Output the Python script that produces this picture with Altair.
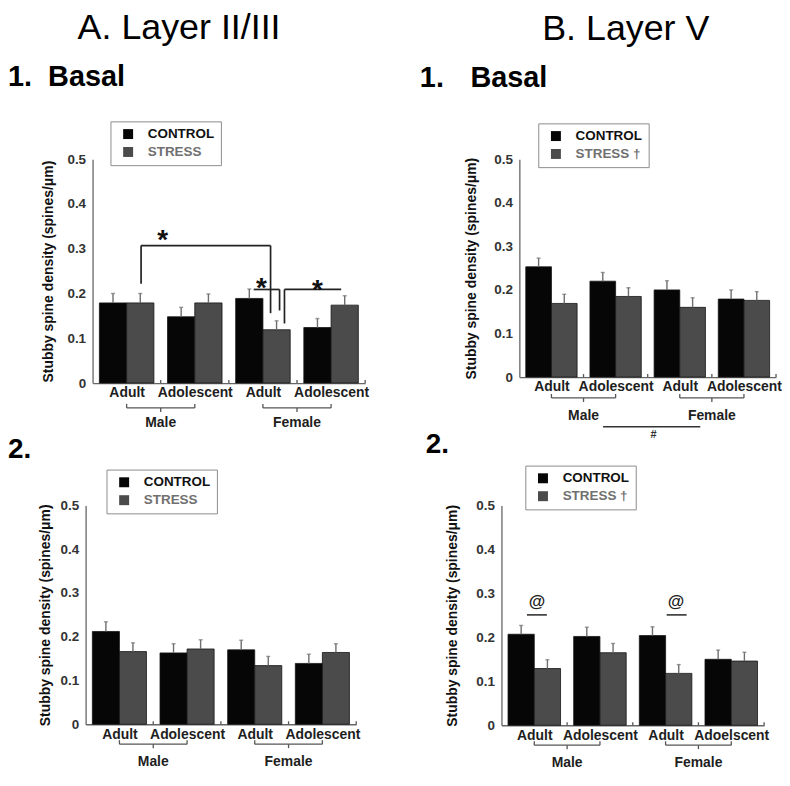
import altair as alt
import pandas as pd

F = "Liberation Sans"
NB = "\u00a0"
ZW = "\u200b"
HAIR = "\u200a"

# ---------------- data ----------------
ages = ["Adult", "Adolescent", "Adult", "Adolescent"]
ages_b2 = ["Adult", "Adolescent", "Adult", "Adoelscent"]
sexes = ["Male", "Female"]
conditions = ["CONTROL", "STRESS"]
bar_colors = ["#060606", "#4b4b4b"]
y_ticks = [0, 0.1, 0.2, 0.3, 0.4, 0.5]

# A. Layer II/III, 1. Basal
a1_control = [0.179, 0.148, 0.189, 0.124]
a1_control_sem = [0.021, 0.021, 0.021, 0.020]
a1_stress = [0.179, 0.179, 0.119, 0.174]
a1_stress_sem = [0.021, 0.020, 0.020, 0.021]

# B. Layer V, 1. Basal
b1_control = [0.253, 0.220, 0.200, 0.179]
b1_control_sem = [0.020, 0.020, 0.021, 0.021]
b1_stress = [0.169, 0.185, 0.160, 0.176]
b1_stress_sem = [0.021, 0.020, 0.022, 0.020]

# A. Layer II/III, 2.
a2_control = [0.212, 0.163, 0.170, 0.139]
a2_control_sem = [0.022, 0.021, 0.022, 0.021]
a2_stress = [0.166, 0.172, 0.134, 0.164]
a2_stress_sem = [0.020, 0.021, 0.021, 0.020]

# B. Layer V, 2.
b2_control = [0.207, 0.202, 0.204, 0.150]
b2_control_sem = [0.020, 0.021, 0.020, 0.021]
b2_stress = [0.129, 0.165, 0.118, 0.146]
b2_stress_sem = [0.020, 0.021, 0.020, 0.020]

# significance annotations (x in bar-slot units, y in spines/um)
a1_bracket_x1 = [1.78, 1.78, 6.53, 5.91, 6.86, 7.04, 7.04]
a1_bracket_x2 = [1.78, 6.53, 6.53, 6.86, 6.86, 7.04, 9.12]
a1_bracket_y1 = [0.222, 0.307, 0.307, 0.209, 0.209, 0.209, 0.209]
a1_bracket_y2 = [0.307, 0.307, 0.156, 0.209, 0.162, 0.133, 0.209]
a1_star_x = [2.57, 6.19, 8.25]
a1_star_y = [0.336, 0.227, 0.224]

b2_at_x = [1.35, 6.65]
b2_at_y = [0.281, 0.281]
b2_line_x1 = [0.97, 6.29]
b2_line_x2 = [1.73, 7.05]
b2_line_y = [0.251, 0.251]

b1_hash_x1 = [3.26]
b1_hash_x2 = [7.05]
b1_hash_y = [-0.114]
b1_hash_text_x = [5.23]
b1_hash_text_y = [-0.132]


def seg_layer(df, xscale, yscale, color, width):
    return alt.Chart(df).mark_rule(color=color, strokeWidth=width).encode(
        x=alt.X("x:Q", scale=xscale),
        x2="x2:Q",
        y=alt.Y("y:Q", scale=yscale),
        y2="y2:Q",
    )


def make_panel(p):
    width, height, xs = p["width"], p["height"], p["xs"]
    upx = 0.5 / height
    rows = []
    for k in range(4):
        for j in range(2):
            vals = p["control"] if j == 0 else p["stress"]
            sems = p["csem"] if j == 0 else p["ssem"]
            x0 = 2.5 * k + 0.25 + j
            rows.append({"condition": conditions[j], "age": p["ages"][k],
                         "value": vals[k], "top": vals[k] + sems[k], "base": 0.0,
                         "x0": x0, "x1": x0 + 1, "xc": x0 + 0.5})
    df = pd.DataFrame(rows)

    xscale = alt.Scale(domain=[0, 10], range=[xs, width], nice=False, zero=False)
    yscale = alt.Scale(domain=[0, 0.5], nice=False)

    lab = p["ages"]
    xexpr = (f"datum.value < 2.5 ? '{lab[0]}' : datum.value < 5 ? '{lab[1]}' : "
             f"datum.value < 7.5 ? '{lab[2]}' : '{lab[3]}'")
    xaxis = alt.Axis(values=[1.25, 3.75, 6.25, 8.75], labelExpr=xexpr, title=None,
                     ticks=False, tickSize=0, labelPadding=3, labelFont=F,
                     labelFontSize=14, labelFontWeight="bold", labelColor="#1e1e1e",
                     domainColor="#666666", domainWidth=1.3, grid=False,
                     labelFlush=False, labelOverlap=False, labelBound=False)
    yaxis = alt.Axis(values=y_ticks,
                     labelExpr="datum.value == 0 ? '0' : format(datum.value, '.1f')",
                     title="Stubby spine density (spines/\u03bcm)", titleFont=F,
                     titleFontSize=14, titleFontWeight="bold", titleColor="#111111",
                     titlePadding=p["title_pad"], labelFont=F, labelFontSize=13.5,
                     labelFontWeight="bold", labelColor="#333333", labelPadding=7,
                     ticks=False, tickSize=0, domainColor="#666666", domainWidth=1.3,
                     grid=False, offset=-xs)
    legend = alt.Legend(orient="none", legendX=p["lx"], legendY=p["ly"], title=None,
                        padding=6, strokeColor="#8c8c8c", fillColor="#ffffff",
                        symbolType="square", symbolSize=100, symbolStrokeWidth=0,
                        symbolOffset=5,
                        labelFont=F, labelFontSize=13.5, labelFontWeight="bold",
                        labelOffset=13, rowPadding=3,
                        labelColor=alt.ExprRef(expr="datum.value == 'STRESS' ? '#707070' : '#111111'"),
                        labelExpr=f"datum.value == 'STRESS' ? '{p['stress_label']}' : datum.label")

    bars = alt.Chart(df).mark_bar(stroke="#161616", strokeWidth=0.8).encode(
        x=alt.X("x0:Q", scale=xscale, axis=xaxis),
        x2="x1:Q",
        y=alt.Y("value:Q", scale=yscale, axis=yaxis, stack=None),
        y2="base:Q",
        color=alt.Color("condition:N", scale=alt.Scale(domain=conditions, range=bar_colors),
                        legend=legend),
    )
    stems = alt.Chart(df).mark_rule(color="#6e6e6e", strokeWidth=1.4).encode(
        x=alt.X("xc:Q", scale=xscale),
        y=alt.Y("value:Q", scale=yscale),
        y2="top:Q",
    )
    caps = alt.Chart(df).mark_tick(orient="horizontal", color="#6e6e6e", thickness=1.4,
                                   size=4).encode(
        x=alt.X("xc:Q", scale=xscale),
        y=alt.Y("top:Q", scale=yscale),
    )

    # small axis ticks between groups and braces under Male / Female
    segs = []
    for t in [2.5, 5.0, 7.5, 10.0]:
        segs.append({"x": t, "x2": t, "y": 0, "y2": 3 * upx})
    yb = -p["brace_px"] * upx
    hook = 4 * upx
    sex_rows = []
    for s in range(2):
        xa, xb, mid = 1.25 + 5 * s, 3.75 + 5 * s, 2.5 + 5 * s
        segs += [{"x": xa, "x2": xb, "y": yb, "y2": yb},
                 {"x": xa, "x2": xa, "y": yb, "y2": yb + hook},
                 {"x": xb, "x2": xb, "y": yb, "y2": yb + hook},
                 {"x": mid, "x2": mid, "y": yb, "y2": yb - hook}]
        sex_rows.append({"sex": sexes[s], "x": mid, "y": 0})
    guides = seg_layer(pd.DataFrame(segs), xscale, yscale, "#555555", 1.3)
    sex_text = alt.Chart(pd.DataFrame(sex_rows)).mark_text(
        font=F, fontSize=14, fontWeight="bold", color="#1e1e1e", baseline="middle",
        dy=p["sex_px"]).encode(
        x=alt.X("x:Q", scale=xscale),
        y=alt.Y("y:Q", scale=yscale),
        text="sex:N",
    )

    layers = [bars, stems, caps, guides, sex_text] + p["extra"](xscale, yscale)
    return alt.layer(*layers).properties(width=width, height=height, title=p["title"])


def extra_a1(xscale, yscale):
    seg = pd.DataFrame({"x": a1_bracket_x1, "x2": a1_bracket_x2,
                        "y": a1_bracket_y1, "y2": a1_bracket_y2})
    stars = pd.DataFrame({"x": a1_star_x, "y": a1_star_y})
    return [
        seg_layer(seg, xscale, yscale, "#222222", 1.7),
        alt.Chart(stars).mark_text(text="*", font=F, fontSize=28, fontWeight="bold",
                                   color="#111111", baseline="alphabetic", dy=16).encode(
            x=alt.X("x:Q", scale=xscale),
            y=alt.Y("y:Q", scale=yscale)),
    ]


def extra_b1(xscale, yscale):
    seg = pd.DataFrame({"x": b1_hash_x1, "x2": b1_hash_x2, "y": b1_hash_y, "y2": b1_hash_y})
    txt = pd.DataFrame({"x": b1_hash_text_x, "y": b1_hash_text_y})
    return [
        seg_layer(seg, xscale, yscale, "#333333", 1.5),
        alt.Chart(txt).mark_text(text="#", font=F, fontSize=11, fontWeight="bold",
                                 color="#333333", baseline="middle").encode(
            x=alt.X("x:Q", scale=xscale),
            y=alt.Y("y:Q", scale=yscale)),
    ]


def extra_none(xscale, yscale):
    return []


def extra_b2(xscale, yscale):
    seg = pd.DataFrame({"x": b2_line_x1, "x2": b2_line_x2, "y": b2_line_y, "y2": b2_line_y})
    txt = pd.DataFrame({"x": b2_at_x, "y": b2_at_y})
    return [
        seg_layer(seg, xscale, yscale, "#333333", 1.6),
        alt.Chart(txt).mark_text(text="@", font=F, fontSize=17, fontWeight="bold",
                                 color="#222222", baseline="middle").encode(
            x=alt.X("x:Q", scale=xscale),
            y=alt.Y("y:Q", scale=yscale)),
    ]


def head_title(text, sub, dx, offset):
    return alt.TitleParams(text=text, subtitle=sub, anchor="start", frame="group", dx=dx,
                           offset=offset, font=F, fontSize=36, fontWeight="normal",
                           color="#000000", subtitleFont=F, subtitleFontSize=29,
                           subtitleFontWeight="bold", subtitleColor="#000000",
                           subtitlePadding=16)


def num_title(text, dx, offset):
    return alt.TitleParams(text=text, anchor="start", frame="group", dx=dx, offset=offset,
                           font=F, fontSize=28, fontWeight="bold", color="#000000")


panel_a1 = make_panel(dict(
    control=a1_control, csem=a1_control_sem, stress=a1_stress, ssem=a1_stress_sem,
    ages=ages, width=281, height=225, xs=7, lx=25, ly=-38, stress_label="STRESS",
    title_pad=11, brace_px=25, sex_px=40, extra=extra_a1,
    title=head_title(ZW + NB * 7 + "A. Layer II/III", "1." + NB * 2 + "Basal", -78, 28)))

panel_b1 = make_panel(dict(
    control=b1_control, csem=b1_control_sem, stress=b1_stress, ssem=b1_stress_sem,
    ages=ages, width=276, height=219, xs=18, lx=37, ly=-36, stress_label="STRESS \u2020",
    title_pad=15, brace_px=21, sex_px=39, extra=extra_b1,
    title=head_title(ZW + NB * 12 + HAIR + "B. Layer V", "1." + NB * 3 + HAIR + "Basal",
                     -82, 29)))

panel_a2 = make_panel(dict(
    control=a2_control, csem=a2_control_sem, stress=a2_stress, ssem=a2_stress_sem,
    ages=ages, width=272, height=220, xs=0, lx=21, ly=-36, stress_label="STRESS",
    title_pad=8, brace_px=20, sex_px=38, extra=extra_none,
    title=num_title("2.", -78, 5)))

panel_b2 = make_panel(dict(
    control=b2_control, csem=b2_control_sem, stress=b2_stress, ssem=b2_stress_sem,
    ages=ages_b2, width=264, height=221, xs=0, lx=24, ly=-40, stress_label="STRESS \u2020",
    title_pad=16, brace_px=20, sex_px=38, extra=extra_b2,
    title=num_title("2.", -76, 6)))

chart = alt.concat(
    panel_a1, panel_b1, panel_a2, panel_b2,
    columns=2, spacing={"row": 123, "column": 137}, bounds="flush", align="each",
).resolve_scale(
    color="independent", x="independent", y="independent"
).resolve_legend(color="independent").properties(
    padding={"left": 0, "top": 0, "right": 0, "bottom": 0}
).configure_view(stroke=None)

chart.save("out.html", embed_options={"renderer": "svg", "actions": False})
